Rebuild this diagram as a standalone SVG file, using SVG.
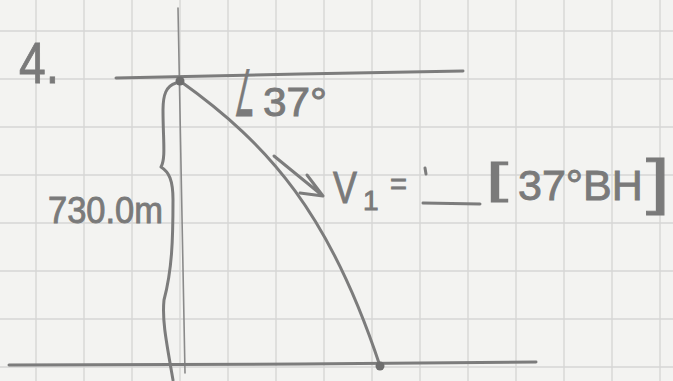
<svg xmlns="http://www.w3.org/2000/svg" width="673" height="381" viewBox="0 0 673 381">
<defs>
<style>
.grid line{stroke:#d6d6d4;stroke-width:1.4}
.pen{fill:none;stroke:#7c7c7c;stroke-width:3;stroke-linecap:round;stroke-linejoin:round}
.thin{fill:none;stroke:#8a8a8a;stroke-width:1.6;stroke-linecap:round}
.hand{font-family:"Liberation Sans","DejaVu Sans",sans-serif;fill:#7a7a7a;stroke:#7a7a7a;stroke-width:0.9}
</style>
</defs>
<rect width="673" height="381" fill="#f3f3f1"/>
<g class="grid">
<line x1="36" y1="0" x2="36" y2="381"/><line x1="84" y1="0" x2="84" y2="381"/><line x1="132" y1="0" x2="132" y2="381"/><line x1="180" y1="0" x2="180" y2="381"/><line x1="228" y1="0" x2="228" y2="381"/><line x1="276" y1="0" x2="276" y2="381"/><line x1="324" y1="0" x2="324" y2="381"/><line x1="372" y1="0" x2="372" y2="381"/><line x1="420" y1="0" x2="420" y2="381"/><line x1="468" y1="0" x2="468" y2="381"/><line x1="516" y1="0" x2="516" y2="381"/><line x1="564" y1="0" x2="564" y2="381"/><line x1="612" y1="0" x2="612" y2="381"/><line x1="660" y1="0" x2="660" y2="381"/>
<line x1="0" y1="31" x2="673" y2="31"/><line x1="0" y1="79" x2="673" y2="79"/><line x1="0" y1="127" x2="673" y2="127"/><line x1="0" y1="175" x2="673" y2="175"/><line x1="0" y1="223" x2="673" y2="223"/><line x1="0" y1="271" x2="673" y2="271"/><line x1="0" y1="319" x2="673" y2="319"/><line x1="0" y1="367" x2="673" y2="367"/>
</g>
<g id="axes">
<line class="thin" x1="178" y1="8" x2="185" y2="373"/>
<path class="pen" d="M116,78 L300,74 L463,71"/>
<path class="pen" d="M9,365 L300,364 L536,362"/>
</g>
<g id="connectors">
<path class="pen" d="M180,81 C270,145 330,215 380,366"/>
<path class="pen" d="M274,156 L323,196 M307,175 L323,196 L300,193"/>
<path class="pen" d="M176,83 C166,86 163,95 163,110 C163,140 166,158 161,167 C169,172 173,180 173,200 C173,240 172,270 164,300 C162,320 166,340 173,380"/>
</g>
<g id="top-point"><circle cx="180" cy="81" r="4.5" fill="#6e6e6e"/></g>
<g id="bottom-point"><circle cx="380" cy="366" r="4.5" fill="#6e6e6e"/></g>
<g id="label-number"><text class="hand" x="19" y="83" font-size="58" textLength="40" lengthAdjust="spacingAndGlyphs">4.</text></g>
<g id="label-angle">
<text class="hand" transform="translate(234,116) scale(0.36,1)" x="0" y="0" font-size="64" font-family="DejaVu Sans">∠</text>
<text class="hand" x="263" y="116" font-size="40" textLength="64" lengthAdjust="spacingAndGlyphs">37°</text>
</g>
<g id="label-height"><text class="hand" x="48" y="223" font-size="37" textLength="115" lengthAdjust="spacingAndGlyphs">730.0m</text></g>
<g id="label-velocity">
<text class="hand" x="333" y="203" font-size="44" textLength="24" lengthAdjust="spacingAndGlyphs">V</text>
<text class="hand" x="363" y="210" font-size="28">1</text>
<text class="hand" x="390" y="194" font-size="30" textLength="17" lengthAdjust="spacingAndGlyphs">=</text>
<line class="pen" x1="425" y1="168" x2="426" y2="174"/>
<line class="pen" x1="423" y1="203" x2="480" y2="204"/>
<text class="hand" x="486" y="193" font-size="43" textLength="22" lengthAdjust="spacingAndGlyphs">[</text>
<text class="hand" x="518" y="200" font-size="43">37°BH</text>
<text class="hand" x="646" y="202" font-size="62" textLength="24" lengthAdjust="spacingAndGlyphs">]</text>
</g>
</svg>
